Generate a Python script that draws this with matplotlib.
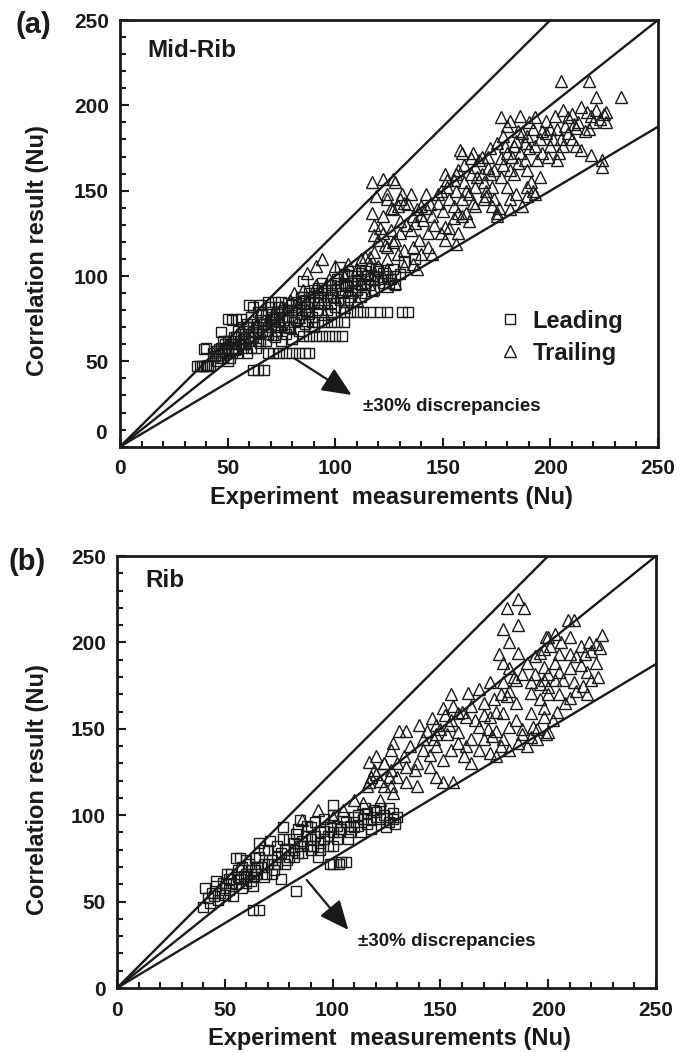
import matplotlib
matplotlib.use("Agg")
import matplotlib.pyplot as plt
from matplotlib.ticker import MultipleLocator

plt.rcParams['font.family'] = ['Liberation Sans', 'DejaVu Sans']
plt.rcParams['font.weight'] = 'bold'

INK = '#1a1a1a'

# ---------------- data ----------------
ticks = [0, 50, 100, 150, 200, 250]
tick_labels = ['0', '50', '100', '150', '200', '250']
band_slopes = [1.25, 1.0, 0.75]

a_leading = [
    (36,47),(37,47),(38,47),(39,47),(40,47),(41,48),(42,47),(39,57),(40,58),(43,55),(44,53),(45,50),
    (45,56),(46,54),(47,52),(47,58),(47,67),(48,62),(49,55),(49,60),(50,50),(50,57),(50,75),(51,52),
    (51,62),(52,74),(53,58),(53,64),(54,75),(55,55),(55,60),(55,68),(56,75),(57,58),(57,63),(57,70),
    (58,66),(59,55),(59,72),(60,62),(60,68),(60,83),(61,58),(61,76),(62,45),(62,64),(62,82),(63,70),
    (63,58),(64,45),(64,66),(64,79),(65,61),(65,74),(65,83),(66,68),(67,45),(67,72),(68,62),(68,78),
    (69,55),(69,85),(69,66),(70,70),(70,82),(71,55),(71,75),(72,64),(72,85),(73,68),(73,79),(74,55),
    (74,73),(75,62),(75,85),(76,70),(76,80),(77,55),(77,66),(78,76),(78,84),(79,70),(80,55),(80,63),
    (80,80),(81,73),(82,85),(83,55),(83,68),(84,78),(85,65),(85,88),(85,97),(86,55),(86,72),(87,82),
    (88,55),(88,65),(88,90),(89,73),(89,76),(90,85),(90,70),(91,65),(92,73),(92,80),(92,93),(93,88),
    (94,65),(95,73),(95,84),(96,92),(97,65),(98,73),(98,78),(98,95),(99,88),(100,65),(101,73),(100,82),
    (101,98),(102,105),(103,65),(104,73),(103,90),(104,85),(104,79),(105,95),(106,100),(107,79),(107,88),
    (108,103),(109,92),(110,79),(110,97),(112,88),(112,102),(113,79),(114,95),(115,100),(116,79),
    (118,92),(119,104),(120,98),(121,79),(122,102),(124,79),(125,96),(127,104),(128,100),(131,79),
    (132,108),(134,79),(137,110),
    (52,55),(54,57),(56,60),(58,60),(60,64),(62,67),(64,70),(66,72),(68,72),(70,75),(72,76),(74,78),
    (76,76),(78,80),(80,83),(82,80),(84,84),(86,86),(88,84),(90,88),(92,90),(94,92),(96,88),(98,90),
    (100,92),(102,94),(104,96),(106,94),(108,96),(110,100),(112,98),(114,103),(116,98),(118,100),
    (120,103),(122,96),(124,100),(126,98),(128,95),(130,101),
    (46,57),(48,52),(50,62),(52,60),(54,64),(56,66),(58,63),(60,70),(62,72),(64,62),(66,78),(68,68),
    (70,78),(72,70),(74,82),(76,74),(78,70),(80,76),(82,74),(84,88),(86,80),(88,78),(90,92),(92,84),
    (94,96),(96,80),(98,84),(100,96),(102,86),(104,101),(106,86),(108,90),(110,92),(112,95),(114,90),
    (116,95),
]

a_trailing = [
    (117,155),(122,157),(127,157),(128,155),(119,147),(124,148),(131,148),(135,148),(117,137),(122,135),
    (127,139),(129,141),(132,143),(138,139),(140,141),(141,133),(137,131),(135,127),(130,125),(126,127),
    (122,125),(120,121),(124,117),(128,121),(132,115),(136,117),(139,121),(143,117),(145,113),(129,113),
    (118,114),(114,111),(116,107),(124,110),(156,119),(149,125),(151,129),(155,134),(159,135),(162,132),
    (164,143),(161,137),(157,137),(153,145),(148,143),(145,135),(142,148),(149,150),(152,152),(155,156),
    (151,160),(157,162),(159,172),(158,174),(163,169),(165,164),(168,160),(171,163),(169,155),(173,152),
    (169,145),(170,147),(173,141),(175,135),(176,140),(181,145),(184,148),(189,147),(192,150),(191,155),
    (195,158),(189,162),(185,166),(182,170),(177,169),(175,178),(179,176),(184,179),(188,178),(193,176),
    (189,182),(185,185),(180,188),(177,193),(181,191),(186,194),(190,190),(193,193),(198,191),(202,194),
    (206,197),(208,193),(198,184),(201,180),(200,176),(199,170),(203,168),(206,176),(208,184),(210,180),
    (212,176),(214,174),(211,189),(214,199),(217,196),(219,194),(218,186),(221,197),(225,195),(226,190),
    (221,205),(205,214),(218,214),(233,205),(224,168),(224,164),(219,171),(212,187),(195,180),(181,162),
    (177,158),(180,152),(174,145),(165,152),(161,150),(159,145),(163,160),(167,168),(171,170),(155,141),
    (157,125),(151,121),(143,125),(140,113),(189,152),(193,148),(187,141),(181,139),(175,137),(165,141),
    (94,110),(91,106),(87,102),(100,106),(106,107),(112,110),(116,111),(110,104),(114,102),(104,100),
    (97,98),(91,95),(85,92),(81,90),(79,86),(75,82),(71,78),(69,74),(75,72),(83,76),(87,80),(93,84),
    (100,88),(106,92),(112,96),(118,98),(122,100),(124,104),(120,106),(65,68),(61,65),(57,61),(53,57),
    (71,66),(79,70),(87,74),(95,78),(104,82),(110,86),(117,92),(124,94),(128,96),(132,106),(136,107),
    (138,104),
    (142,140),(146,130),(150,138),(153,128),(156,150),(160,155),(162,148),(166,158),(170,150),(172,160),
    (174,162),(178,165),(180,172),(183,160),(186,172),(188,168),(190,175),(194,168),(196,172),(200,186),
    (203,186),(205,180),(207,188),(210,195),(213,190),(216,185),(220,190),(223,192),(226,196),(204,172),
    (196,185),(192,186),(187,184),(183,176),(178,182),(172,175),(168,170),(164,172),(160,165),(156,160),
    (152,156),(148,148),(144,142),(140,136),(136,135),(133,130),(130,132),(127,120),(123,118),(121,128),
    (118,124),(126,140),(130,145),(134,142),(124,145),(118,130),
]

b_leading = [
    (40,47),(43,49),(45,53),(41,58),(46,59),(49,61),(48,55),(52,57),(54,53),(53,61),(51,66),(55,75),
    (57,75),(56,68),(59,65),(60,61),(63,59),(62,68),(64,75),(66,84),(71,85),(77,86),(65,70),(68,72),
    (69,66),(73,68),(74,76),(68,80),(79,74),(76,63),(63,45),(66,45),(83,56),(82,80),(85,82),(83,89),
    (85,97),(88,88),(91,82),(94,84),(93,76),(100,72),(103,72),(99,72),(100,82),(103,90),(99,93),
    (107,86),(110,93),(100,106),(110,99),(116,95),(120,99),(128,101),(129,95),(125,93),(119,103),
    (113,90),(77,93),(90,93),(96,91),
    (44,55),(47,51),(50,58),(52,63),(55,60),(57,63),(58,70),(60,66),(61,72),(63,64),(65,66),(67,70),
    (70,72),(72,74),(74,72),(76,78),(78,80),(80,76),(82,84),(84,78),(86,85),(88,82),(90,86),(92,88),
    (94,90),(96,86),(98,88),(100,90),(102,94),(104,92),(106,96),(108,94),(110,96),(112,100),(114,98),
    (116,101),(118,97),(120,102),(122,98),(124,100),(126,104),(130,99),(104,73),(106,73),
    (42,52),(46,62),(50,54),(53,66),(56,64),(58,58),(60,74),(62,62),(64,68),(66,76),(68,64),(70,80),
    (72,66),(74,82),(78,72),(80,86),(82,76),(84,92),(86,78),(88,94),(90,80),(92,96),(94,80),(96,98),
    (98,82),(100,100),(102,86),(105,99),(108,90),(112,94),(115,104),(118,92),(122,104),(126,96),
    (128,98),
]

b_trailing = [
    (186,225),(189,220),(181,220),(179,208),(186,210),(182,200),(177,193),(186,194),(179,188),(182,185),
    (194,192),(199,203),(196,194),(198,186),(173,177),(179,177),(185,178),(192,177),(198,178),(168,173),
    (163,171),(155,170),(151,162),(158,159),(155,155),(162,157),(170,165),(175,167),(181,169),(185,165),
    (192,171),(196,167),(179,159),(185,155),(192,159),(173,157),(168,151),(176,149),(182,151),(188,147),
    (193,151),(179,144),(170,144),(173,136),(176,134),(164,144),(158,142),(161,134),(164,130),(155,138),
    (148,140),(145,135),(151,132),(144,149),(148,147),(153,147),(147,144),(142,144),(136,140),(131,149),
    (134,149),(128,142),(127,138),(133,134),(139,130),(145,128),(148,122),(151,119),(156,119),(120,134),
    (117,131),(124,130),(120,124),(127,126),(130,122),(134,119),(139,117),(117,119),(124,117),(198,157),
    (195,144),(199,147),(201,198),(200,174),
    (86,97),(93,103),(116,117),(119,126),(124,130),(127,117),(110,109),(100,99),(105,103),(114,107),
    (122,109),(128,113),
    (209,213),(212,213),(203,205),(200,203),(198,196),(205,193),(210,193),(213,192),(217,193),(220,195),
    (224,197),(225,204),(222,199),(215,187),(218,183),(210,185),(205,183),(203,178),(207,178),(212,177),
    (216,175),(220,178),(223,180),(200,170),(205,170),(210,168),(213,172),(218,170),(198,162),(204,160),
    (208,165),(202,155),(195,150),(192,145),(188,150),(200,148),
    (140,152),(146,156),(150,150),(152,158),(156,163),(160,160),(164,163),(166,155),(170,158),(172,150),
    (176,160),(178,170),(182,172),(184,180),(188,182),(190,188),(194,182),(196,176),(200,182),(203,188),
    (206,200),(210,203),(215,198),(219,200),(222,188),(190,140),(186,142),(182,138),(178,140),(174,146),
    (168,138),(162,140),(158,148),(154,152),(148,152),(142,138),(138,126),(134,128),(130,130),(126,122),
    (122,120),(118,122),
]

# ---------------- figure ----------------
fig = plt.figure(figsize=(6.89, 10.53), dpi=100)
ax_a = fig.add_axes([120/689, 1 - 446.7/1053, 538/689, 426.7/1053])
ax_b = fig.add_axes([117/689, 1 - 988/1053, 539/689, 432/1053])

def style_axes(ax):
    ax.set_xlim(0, 250)
    ax.set_ylim(0, 250)
    ax.set_xticks(ticks)
    ax.set_yticks(ticks)
    ax.set_xticklabels(tick_labels)
    ax.set_yticklabels(tick_labels)
    ax.xaxis.set_minor_locator(MultipleLocator(10))
    ax.yaxis.set_minor_locator(MultipleLocator(10))
    ax.tick_params(which='both', direction='in', top=False, right=False, colors=INK,
                   labelsize=15, width=1.5)
    ax.tick_params(which='major', length=6.5)
    ax.tick_params(which='minor', length=4.5)
    ax.tick_params(axis='x', pad=9)
    ax.tick_params(axis='y', pad=8)
    for lab in ax.get_xticklabels() + ax.get_yticklabels():
        lab.set_fontweight('bold')
    for sp in ax.spines.values():
        sp.set_linewidth(2.0)
        sp.set_color(INK)

def draw_panel(ax, leading, trailing):
    lx = [p[0] for p in leading]
    ly = [p[1] for p in leading]
    tx = [p[0] for p in trailing]
    ty = [p[1] for p in trailing]
    h1, = ax.plot(lx, ly, 's', mfc='none', mec=INK, ms=7.2, mew=1.0, ls='none',
                  label='Leading', zorder=2)
    h2, = ax.plot(tx, ty, '^', mfc='none', mec=INK, ms=8.3, mew=1.0, ls='none',
                  label='Trailing', zorder=2)
    for k in band_slopes:
        ax.plot([0, 250], [0, 250 * k], '-', color=INK, lw=1.7, zorder=3)
    return h1, h2

# panel (a)
style_axes(ax_a)
h1, h2 = draw_panel(ax_a, a_leading, a_trailing)
ax_a.set_yticklabels([''] + tick_labels[1:])
ax_a.text(-0.025, 0.032, '0', transform=ax_a.transAxes, ha='right', va='center',
          fontsize=15, fontweight='bold', color=INK)
ax_a.text(0.05, 0.928, 'Mid-Rib', transform=ax_a.transAxes, ha='left', va='center',
          fontsize=17.5, fontweight='bold', color=INK)
leg = ax_a.legend(handles=[h1, h2], loc='center left', bbox_to_anchor=(0.7026, 0.257),
                  frameon=False, fontsize=17, handlelength=1.0, handletextpad=0.47,
                  labelspacing=0.38, borderpad=0, borderaxespad=0, numpoints=1)
for t in leg.get_texts():
    t.set_fontweight('bold')
    t.set_color(INK)
ax_a.annotate('', xy=(107.6, 30.3), xytext=(81, 51.8),
              arrowprops=dict(arrowstyle='-|>,head_length=0.9,head_width=0.4',
                              mutation_scale=20, color=INK, lw=1.6, shrinkA=0, shrinkB=0))
ax_a.text(112.7, 23.4, '±30% discrepancies', ha='left', va='center',
          fontsize=13.5, fontweight='bold', color=INK)
ax_a.text(-0.154, 0.459, 'Correlation result (Nu)', transform=ax_a.transAxes, rotation=90,
          ha='center', va='center', fontsize=17, fontweight='bold', color=INK)
ax_a.text(0.505, -0.12, 'Experiment  measurements (Nu)', transform=ax_a.transAxes,
          ha='center', va='center', fontsize=17, fontweight='bold', color=INK)
fig.text(33/689, 1 - 25/1053, '(a)', ha='center', va='center', fontsize=21,
         fontweight='bold', color=INK)

# panel (b)
style_axes(ax_b)
draw_panel(ax_b, b_leading, b_trailing)
ax_b.text(0.052, 0.943, 'Rib', transform=ax_b.transAxes, ha='left', va='center',
          fontsize=17.5, fontweight='bold', color=INK)
ax_b.annotate('', xy=(107.3, 33.6), xytext=(88, 62.5),
              arrowprops=dict(arrowstyle='-|>,head_length=0.9,head_width=0.4',
                              mutation_scale=20, color=INK, lw=1.6, shrinkA=0, shrinkB=0))
ax_b.text(111.8, 26.8, '±30% discrepancies', ha='left', va='center',
          fontsize=13.5, fontweight='bold', color=INK)
ax_b.text(-0.148, 0.459, 'Correlation result (Nu)', transform=ax_b.transAxes, rotation=90,
          ha='center', va='center', fontsize=17, fontweight='bold', color=INK)
ax_b.text(0.505, -0.118, 'Experiment  measurements (Nu)', transform=ax_b.transAxes,
          ha='center', va='center', fontsize=17, fontweight='bold', color=INK)
fig.text(27/689, 1 - 562/1053, '(b)', ha='center', va='center', fontsize=21,
         fontweight='bold', color=INK)

fig.savefig('out.png', dpi=100)
